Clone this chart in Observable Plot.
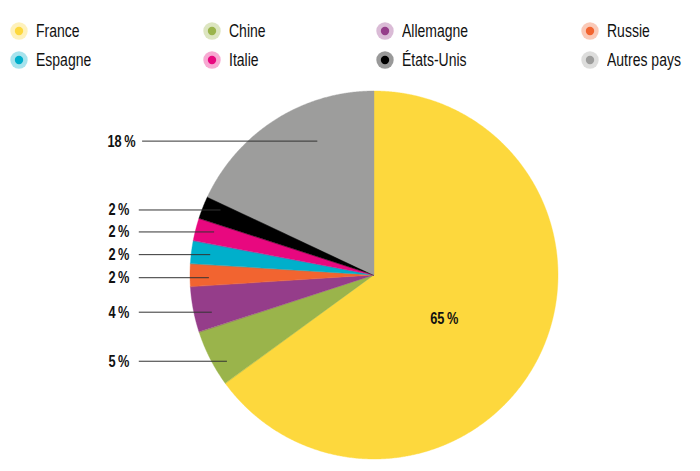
<!DOCTYPE html>
<html>
<head>
<meta charset="utf-8">
<script src="https://cdn.jsdelivr.net/npm/d3@7"></script>
<script src="https://cdn.jsdelivr.net/npm/@observablehq/plot@0.6"></script>
<style>
  html, body { margin: 0; padding: 0; background: #fff; }
  body { width: 700px; height: 471px; overflow: hidden;
         font-family: "Liberation Sans", Arial, sans-serif; }
  #legend { position: relative; width: 700px; height: 80px; }
  .item { position: absolute; display: flex; align-items: center; height: 20px; }
  .item svg { display: block; flex: none; }
  .item span { font-size: 17.5px; color: #111; margin-left: 8px; white-space: nowrap;
               display: inline-block; transform: scaleX(0.80); transform-origin: left center; }
  #chart svg { display: block; }
</style>
</head>
<body>
<div id="legend"></div>
<div id="chart"></div>
<script>
// ---- data ----
const names  = ["France", "Chine", "Allemagne", "Russie", "Espagne", "Italie", "États-Unis", "Autres pays"];
const shares = [65, 5, 4, 2, 2, 2, 2, 18];
const colors = ["#FDD83D", "#9AB44B", "#953D8A", "#F26430", "#00AFCB", "#E8087F", "#000000", "#9D9D9C"];
const labels = ["65\u2009%", "5\u2009%", "4\u2009%", "2\u2009%", "2\u2009%", "2\u2009%", "2\u2009%", "18\u2009%"];

const rows = names.map((name, i) => ({name, share: shares[i], color: colors[i], label: labels[i]}));

// ---- legend (HTML) ----
const colX = [19, 212, 385, 590];
const rowY = [31, 60];
const legend = d3.select("#legend");
rows.forEach((d, i) => {
  const cx = colX[i % 4], cy = rowY[Math.floor(i / 4)];
  const item = legend.append("div").attr("class", "item")
    .style("left", (cx - 9) + "px").style("top", (cy - 10) + "px");
  const s = item.append("svg").attr("width", 18).attr("height", 20);
  s.append("circle").attr("cx", 9).attr("cy", 10).attr("r", 8.7).attr("fill", d.color).attr("fill-opacity", d.name === "États-Unis" ? 0.4 : 0.35);
  s.append("circle").attr("cx", 9).attr("cy", 10).attr("r", 4.2).attr("fill", d.color);
  item.append("span").text(d.name);
});

// ---- pie geometry via d3.pie ----
const arcs = d3.pie().sort(null).value(d => d.share)(rows);
const pts = [];
arcs.forEach(a => {
  const n = Math.max(4, Math.ceil((a.endAngle - a.startAngle) / 0.005));
  for (let k = 0; k <= n; k++) {
    const t = a.startAngle + (a.endAngle - a.startAngle) * k / n;
    pts.push({name: a.data.name, x1: 0, y1: 0, x2: Math.sin(t), y2: Math.cos(t)});
  }
});

// label anchors
const outer = [], inner = [];
arcs.forEach(a => {
  const mid = (a.startAngle + a.endAngle) / 2;
  if (a.data.name === "France") {
    inner.push({label: a.data.label, x: Math.sin(mid) * 0.45, y: Math.cos(mid) * 0.45});
  } else {
    const big = a.data.share > 10;
    const y = big ? Math.cos(mid) * 0.865 : Math.cos(mid) - 0.012;
    const xEnd = Math.sin(mid) * (big ? 0.58 : 0.9);
    outer.push({label: a.data.label, y, xEnd, big});
  }
});

const font = '"Liberation Sans", Arial, sans-serif';

const chart = Plot.plot({
  width: 700,
  height: 391,
  margin: 0,
  x: {domain: [-2.0326, 1.7717], axis: null},
  y: {domain: [-1.0652, 1.0598], axis: null},
  color: {domain: names, range: colors},
  marks: [
    Plot.area(pts, {x1: "x1", y1: "y1", x2: "x2", y2: "y2", z: "name", fill: "name", stroke: "name", strokeWidth: 0.4}),
    Plot.link(outer, {x1: d => d.big ? -1.263 : -1.281, x2: "xEnd", y1: "y", y2: "y", stroke: "#333", strokeWidth: 1}),
    Plot.text(outer, {x: d => d.big ? -1.299 : -1.332, y: "y", text: "label", textAnchor: "end",
      fontWeight: "bold", fontSize: 17, fontFamily: font, fill: "#111"}),
    Plot.text(inner, {x: "x", y: "y", text: "label", dx: -4, dy: 5,
      fontWeight: "bold", fontSize: 17, fontFamily: font, fill: "#111"})
  ]
});
// condense the label glyphs horizontally (narrow typeface look)
d3.select(chart).selectAll("text").each(function () {
  const t = this.getAttribute("transform") || "";
  this.setAttribute("transform", t + " scale(0.75,1)");
});
document.getElementById("chart").appendChild(chart);
</script>
</body>
</html>
